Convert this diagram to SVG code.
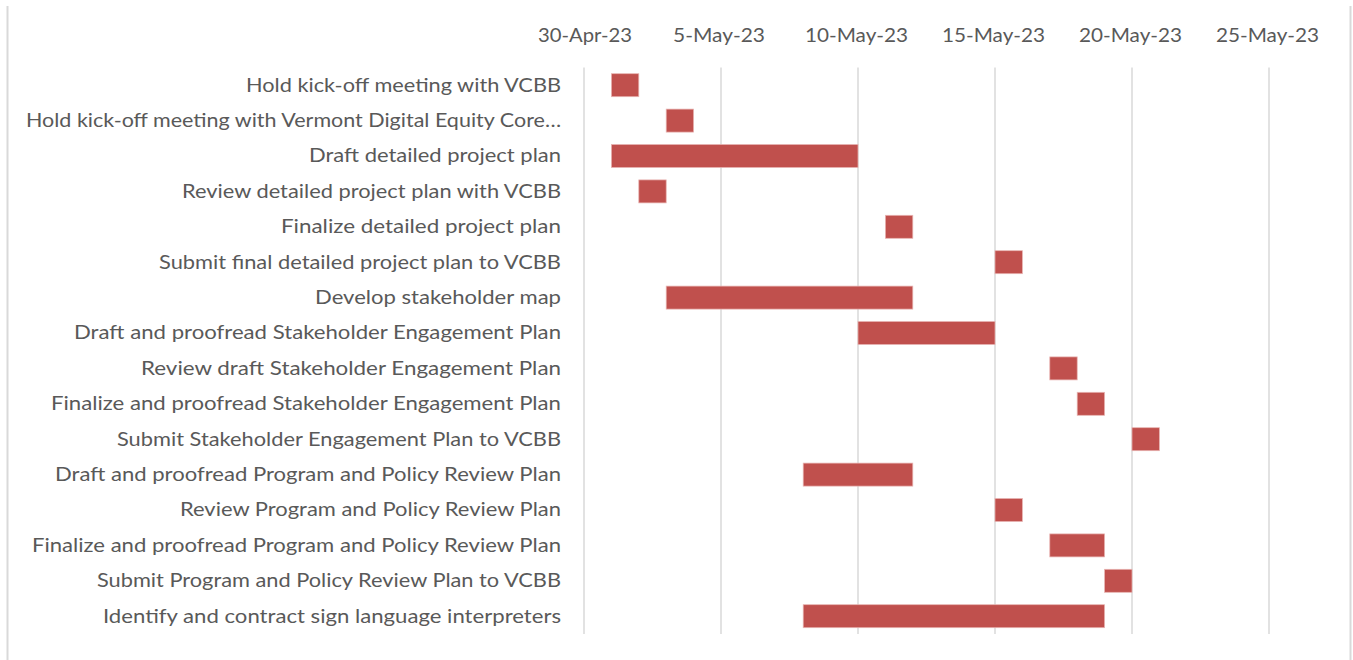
<svg xmlns="http://www.w3.org/2000/svg" width="1353" height="660" viewBox="0 0 1353 660">
<style>
.frame{stroke:#D9D9D9;stroke-width:2;fill:none}
.grid{stroke:#D9D9D9;stroke-width:1.5}
.lbl{font-family:Lato,"Open Sans","Liberation Sans",sans-serif;font-size:20px;fill:#595959;text-anchor:end}
.ax{font-family:Lato,"Open Sans","Liberation Sans",sans-serif;font-size:20px;fill:#595959;text-anchor:middle}
.bar{fill:#C0504D;stroke:#E8B4B2;stroke-width:0.75}
</style>
<rect width="1353" height="660" fill="#FFFFFF"/>
<g id="frame">
<line class="frame" x1="7.5" y1="6" x2="7.5" y2="660"/>
<line class="frame" x1="1350.5" y1="6" x2="1350.5" y2="660"/>
</g>
<g id="gridlines">
<line class="grid" x1="584" y1="67.5" x2="584" y2="634"/>
<line class="grid" x1="721" y1="67.5" x2="721" y2="634"/>
<line class="grid" x1="858" y1="67.5" x2="858" y2="634"/>
<line class="grid" x1="995" y1="67.5" x2="995" y2="634"/>
<line class="grid" x1="1132" y1="67.5" x2="1132" y2="634"/>
<line class="grid" x1="1269" y1="67.5" x2="1269" y2="634"/>
</g>
<g id="axis-labels">
<text class="ax" x="585" y="42" textLength="94" lengthAdjust="spacingAndGlyphs">30-Apr-23</text>
<text class="ax" x="719" y="42" textLength="92" lengthAdjust="spacingAndGlyphs">5-May-23</text>
<text class="ax" x="856.5" y="42" textLength="103" lengthAdjust="spacingAndGlyphs">10-May-23</text>
<text class="ax" x="993.5" y="42" textLength="103" lengthAdjust="spacingAndGlyphs">15-May-23</text>
<text class="ax" x="1130.5" y="42" textLength="103" lengthAdjust="spacingAndGlyphs">20-May-23</text>
<text class="ax" x="1267.5" y="42" textLength="103" lengthAdjust="spacingAndGlyphs">25-May-23</text>
</g>
<g id="task-labels">
<text class="lbl" x="561" y="91.5" textLength="315" lengthAdjust="spacingAndGlyphs">Hold kick-off meeting with VCBB</text>
<text class="lbl" x="561" y="126.9" textLength="535" lengthAdjust="spacingAndGlyphs">Hold kick-off meeting with Vermont Digital Equity Core…</text>
<text class="lbl" x="561" y="162.3" textLength="252" lengthAdjust="spacingAndGlyphs">Draft detailed project plan</text>
<text class="lbl" x="561" y="197.7" textLength="379" lengthAdjust="spacingAndGlyphs">Review detailed project plan with VCBB</text>
<text class="lbl" x="561" y="233.1" textLength="280" lengthAdjust="spacingAndGlyphs">Finalize detailed project plan</text>
<text class="lbl" x="561" y="268.5" textLength="402" lengthAdjust="spacingAndGlyphs">Submit final detailed project plan to VCBB</text>
<text class="lbl" x="561" y="303.9" textLength="246" lengthAdjust="spacingAndGlyphs">Develop stakeholder map</text>
<text class="lbl" x="561" y="339.3" textLength="487" lengthAdjust="spacingAndGlyphs">Draft and proofread Stakeholder Engagement Plan</text>
<text class="lbl" x="561" y="374.7" textLength="420" lengthAdjust="spacingAndGlyphs">Review draft Stakeholder Engagement Plan</text>
<text class="lbl" x="561" y="410.1" textLength="510" lengthAdjust="spacingAndGlyphs">Finalize and proofread Stakeholder Engagement Plan</text>
<text class="lbl" x="561" y="445.5" textLength="444" lengthAdjust="spacingAndGlyphs">Submit Stakeholder Engagement Plan to VCBB</text>
<text class="lbl" x="561" y="480.9" textLength="506" lengthAdjust="spacingAndGlyphs">Draft and proofread Program and Policy Review Plan</text>
<text class="lbl" x="561" y="516.3" textLength="381" lengthAdjust="spacingAndGlyphs">Review Program and Policy Review Plan</text>
<text class="lbl" x="561" y="551.7" textLength="529" lengthAdjust="spacingAndGlyphs">Finalize and proofread Program and Policy Review Plan</text>
<text class="lbl" x="561" y="587.1" textLength="464" lengthAdjust="spacingAndGlyphs">Submit Program and Policy Review Plan to VCBB</text>
<text class="lbl" x="561" y="622.5" textLength="458" lengthAdjust="spacingAndGlyphs">Identify and contract sign language interpreters</text>
</g>
<g id="bars">
<rect class="bar" x="611.4" y="73.7" width="27.4" height="23"/>
<rect class="bar" x="666.2" y="109.1" width="27.4" height="23"/>
<rect class="bar" x="611.4" y="144.5" width="246.6" height="23"/>
<rect class="bar" x="638.8" y="179.9" width="27.4" height="23"/>
<rect class="bar" x="885.4" y="215.3" width="27.4" height="23"/>
<rect class="bar" x="995" y="250.7" width="27.4" height="23"/>
<rect class="bar" x="666.2" y="286.1" width="246.6" height="23"/>
<rect class="bar" x="858" y="321.5" width="137" height="23"/>
<rect class="bar" x="1049.8" y="356.9" width="27.4" height="23"/>
<rect class="bar" x="1077.2" y="392.3" width="27.4" height="23"/>
<rect class="bar" x="1132" y="427.7" width="27.4" height="23"/>
<rect class="bar" x="803.2" y="463.1" width="109.6" height="23"/>
<rect class="bar" x="995" y="498.5" width="27.4" height="23"/>
<rect class="bar" x="1049.8" y="533.9" width="54.8" height="23"/>
<rect class="bar" x="1104.6" y="569.3" width="27.4" height="23"/>
<rect class="bar" x="803.2" y="604.7" width="301.4" height="23"/>
</g>
</svg>
